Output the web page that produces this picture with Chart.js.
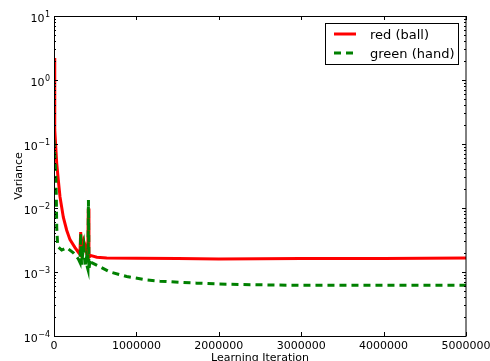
<!DOCTYPE html>
<html>
<head>
<meta charset="utf-8">
<script src="https://cdn.jsdelivr.net/npm/chart.js@4.4.0/dist/chart.umd.min.js"></script>
<style>
  html, body { margin: 0; padding: 0; background: #fff; }
  #wrap { width: 490px; height: 361px; }
</style>
</head>
<body>
<div id="wrap"><canvas id="grafico" width="490" height="361"></canvas></div>
<script>
// valores
const iterRed = [0, 6000, 12000, 33000, 52000, 73000, 113000, 154000, 194000, 255000, 300000, 314000, 324000, 336000, 350000, 362000, 378000, 398000, 410000, 416000, 424000, 450000, 520000, 640000, 1000000, 1500000, 2000000, 3000000, 4000000, 5000000];
const varRed = [2.2, 0.5, 0.166, 0.050, 0.0274, 0.0149, 0.0072, 0.0045, 0.0032, 0.0024, 0.0020, 0.0019, 0.0042, 0.0021, 0.0023, 0.0030, 0.0026, 0.0019, 0.0018, 0.0098, 0.0017, 0.0018, 0.0017, 0.00166, 0.00164, 0.00162, 0.0016, 0.00162, 0.00163, 0.00165];

const iterGreen = [0, 8000, 15000, 22000, 28000, 33000, 45000, 93000, 154000, 235000, 295000, 316000, 324000, 334000, 350000, 362000, 378000, 392000, 404000, 412000, 418000, 424000, 440000, 457000, 680000, 882000, 1125000, 1286000, 1529000, 1732000, 2000000, 2500000, 3000000, 4000000, 5000000];
const varGreen = [0.116, 0.07, 0.05, 0.03, 0.015, 0.005, 0.0025, 0.0022, 0.0024, 0.0020, 0.0016, 0.0014, 0.0040, 0.0013, 0.0020, 0.0025, 0.0012, 0.0016, 0.0012, 0.0011, 0.0133, 0.0011, 0.0016, 0.0014, 0.0010, 0.00085, 0.00075, 0.00072, 0.00069, 0.00067, 0.00065, 0.00063, 0.00062, 0.00062, 0.00062];

const seriesLabels = ["red (ball)", "green (hand)"];
const xTicks = [0, 1000000, 2000000, 3000000, 4000000, 5000000];
const xTickLabels = ["0", "1000000", "2000000", "3000000", "4000000", "5000000"];
const yTickExp = [-4, -3, -2, -1, 0, 1];
const yTickLabels = ["−4", "−3", "−2", "−1", "0", "1"];
const xTitle = "Learning Iteration";
const yTitle = "Variance";

const fonte = "DejaVu Sans";

const moldura = {
    id: "moldura",
    afterDraw(chart) {
        const { ctx, chartArea: a, scales } = chart;
        const sx = scales.x, sy = scales.y;
        ctx.save();

        // eixos
        ctx.strokeStyle = "#000";
        ctx.lineWidth = 1;
        ctx.strokeRect(a.left + 0.5, a.top + 0.5, a.right - a.left - 0.5, a.bottom - a.top);

        // ticks x (baixo e topo)
        ctx.beginPath();
        xTicks.forEach(v => {
            const px = Math.round(sx.getPixelForValue(v)) + 0.5;
            ctx.moveTo(px, a.bottom); ctx.lineTo(px, a.bottom - 4);
            ctx.moveTo(px, a.top); ctx.lineTo(px, a.top + 4);
        });
        // ticks y maiores e menores
        yTickExp.forEach((e, i) => {
            const py = Math.round(sy.getPixelForValue(Math.pow(10, e))) + 0.5;
            ctx.moveTo(a.left, py); ctx.lineTo(a.left + 4, py);
            ctx.moveTo(a.right, py); ctx.lineTo(a.right - 4, py);
            if (i < yTickExp.length - 1) {
                for (let m = 2; m <= 9; m++) {
                    const pm = Math.round(sy.getPixelForValue(m * Math.pow(10, e))) + 0.5;
                    ctx.moveTo(a.left, pm); ctx.lineTo(a.left + 2, pm);
                    ctx.moveTo(a.right, pm); ctx.lineTo(a.right - 2, pm);
                }
            }
        });
        ctx.stroke();

        // rótulos x
        ctx.fillStyle = "#000";
        ctx.font = `11px "${fonte}"`;
        ctx.textAlign = "center";
        ctx.textBaseline = "alphabetic";
        xTicks.forEach((v, i) => {
            ctx.fillText(xTickLabels[i], sx.getPixelForValue(v), a.bottom + 13);
        });

        // rótulos y com expoente
        yTickExp.forEach((e, i) => {
            const py = sy.getPixelForValue(Math.pow(10, e));
            ctx.textAlign = "right";
            ctx.font = `8px "${fonte}"`;
            const w = ctx.measureText(yTickLabels[i]).width;
            ctx.fillText(yTickLabels[i], a.left - 4, py + 1);
            ctx.font = `11px "${fonte}"`;
            ctx.fillText("10", a.left - 4 - w - 0.5, py + 6);
        });

        // títulos
        ctx.font = `11px "${fonte}"`;
        ctx.textAlign = "center";
        ctx.fillText(xTitle, (a.left + a.right) / 2, 361);
        ctx.save();
        ctx.translate(19, (a.top + a.bottom) / 2);
        ctx.rotate(-Math.PI / 2);
        ctx.textBaseline = "middle";
        ctx.fillText(yTitle, 0, 0);
        ctx.restore();

        // legenda
        ctx.fillStyle = "#fff";
        ctx.fillRect(325.5, 23.5, 133, 41);
        ctx.strokeStyle = "#000";
        ctx.strokeRect(325.5, 23.5, 133, 41);
        chart.data.datasets.forEach((ds, i) => {
            const y = 34 + i * 19;
            ctx.beginPath();
            ctx.strokeStyle = ds.borderColor;
            ctx.lineWidth = 3;
            ctx.setLineDash(ds.borderDash || []);
            ctx.moveTo(334, y);
            ctx.lineTo(356, y);
            ctx.stroke();
            ctx.setLineDash([]);
            ctx.fillStyle = "#000";
            ctx.font = `13px "${fonte}"`;
            ctx.textAlign = "left";
            ctx.textBaseline = "alphabetic";
            ctx.fillText(ds.label, 370, y + 4.5);
        });

        ctx.restore();
    }
};

const ctx = document.getElementById("grafico").getContext("2d");
new Chart(ctx, {
    type: "line",
    data: {
        datasets: [
            {
                label: seriesLabels[0],
                data: iterRed.map((x, i) => ({ x, y: varRed[i] })),
                borderColor: "#ff0000",
                borderWidth: 3,
                pointRadius: 0,
                tension: 0,
                fill: false,
                order: 1
            },
            {
                label: seriesLabels[1],
                data: iterGreen.map((x, i) => ({ x, y: varGreen[i] })),
                borderColor: "#008000",
                borderWidth: 3,
                borderDash: [7, 5],
                pointRadius: 0,
                tension: 0,
                fill: false,
                order: 0
            }
        ]
    },
    options: {
        responsive: false,
        animation: false,
        events: [],
        layout: { padding: { left: 54, right: 24, top: 16, bottom: 25 } },
        plugins: { legend: { display: false }, tooltip: { enabled: false } },
        scales: {
            x: { type: "linear", min: 0, max: 5000000, display: false },
            y: { type: "logarithmic", min: 0.0001, max: 10, display: false }
        }
    },
    plugins: [moldura]
});
</script>
</body>
</html>
